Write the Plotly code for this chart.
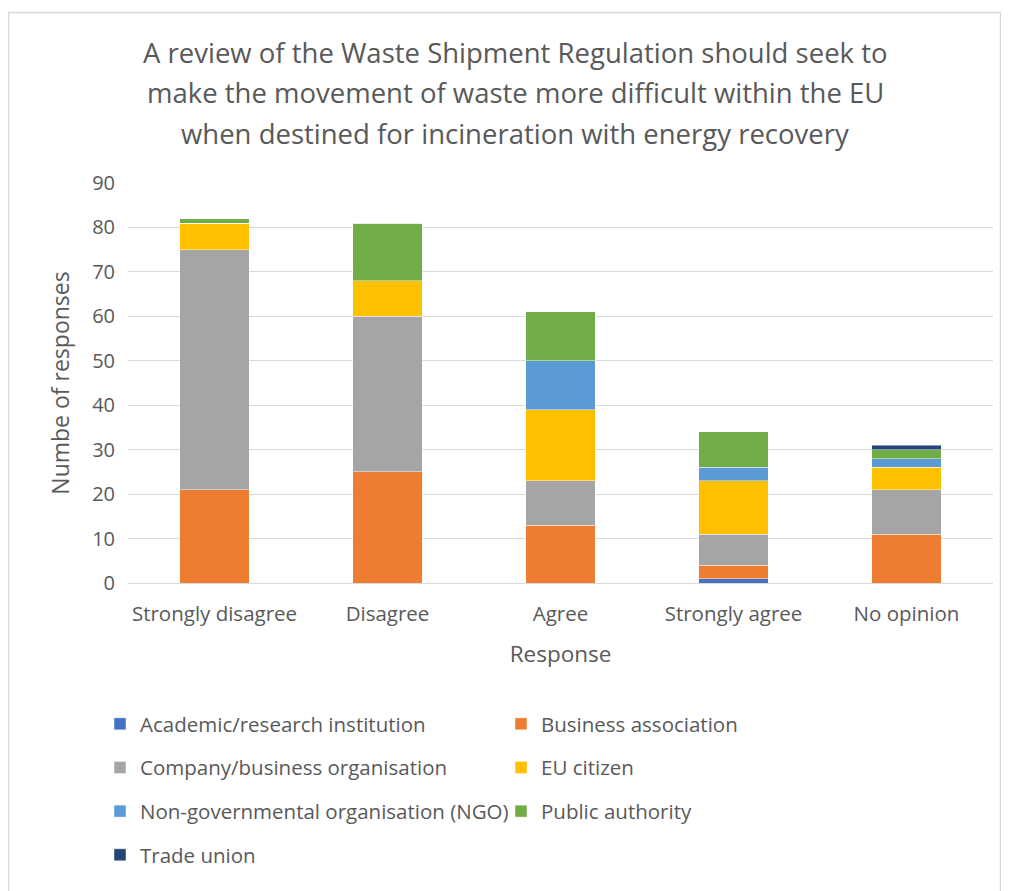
import plotly.graph_objects as go

responses = ['Strongly disagree', 'Disagree', 'Agree', 'Strongly agree', 'No opinion']

academic = [0, 0, 0, 1, 0]
business_association = [21, 25, 13, 3, 11]
company = [54, 35, 10, 7, 10]
eu_citizen = [6, 8, 16, 12, 5]
ngo = [0, 0, 11, 3, 2]
public_authority = [1, 13, 11, 8, 2]
trade_union = [0, 0, 0, 0, 1]

series = [
    ('Academic/research institution', academic, '#4472C4', 'legend'),
    ('Business association', business_association, '#ED7D31', 'legend2'),
    ('Company/business organisation', company, '#A5A5A5', 'legend'),
    ('EU citizen', eu_citizen, '#FFC000', 'legend2'),
    ('Non-governmental organisation (NGO)', ngo, '#5B9BD5', 'legend'),
    ('Public authority', public_authority, '#70AD47', 'legend2'),
    ('Trade union', trade_union, '#264478', 'legend'),
]

title_lines = [
    'A review of the Waste Shipment Regulation should seek to',
    'make the movement of waste more difficult within the EU',
    'when destined for incineration with energy recovery',
]

FONT = 'Open Sans'
GREY = '#595959'

# page body adds an 8px offset, so positions below are taken from the screen minus 8
OFF = 8
W, H = 1009, 891
L, R, T, B = 128 - OFF, W - (993 - OFF), 183 - OFF, H - (583 - OFF)
pw, ph = W - L - R, H - T - B


def px_x(x):
    return (x - OFF - L) / pw


def px_y(y):
    return (H - B - (y - OFF)) / ph


fig = go.Figure()
for name, vals, color, leg in series:
    fig.add_trace(go.Bar(
        x=responses,
        y=vals,
        name=name,
        legend=leg,
        legendgroup=name,
        marker=dict(color=color, line=dict(color='rgba(255,255,255,0.6)', width=0.75)),
    ))

annotations = []
for i, line in enumerate(title_lines):
    annotations.append(dict(
        text=line, x=px_x(515), y=px_y(52 + i * 41), xref='paper', yref='paper',
        showarrow=False, xanchor='center', yanchor='middle',
        font=dict(family=FONT, size=27.5, color=GREY),
    ))

legend_common = dict(
    orientation='v', yanchor='top', xanchor='left',
    font=dict(family=FONT, size=20.5, color=GREY),
    tracegroupgap=14, bgcolor='rgba(0,0,0,0)', itemclick=False,
)

fig.update_layout(
    width=W, height=H,
    margin=dict(l=L, r=R, t=T, b=B),
    paper_bgcolor='white', plot_bgcolor='white',
    barmode='stack', bargap=0.6,
    font=dict(family=FONT, color=GREY),
    annotations=annotations,
    legend=dict(x=px_x(100), y=px_y(704), **legend_common),
    legend2=dict(x=px_x(501), y=px_y(704), **legend_common),
    shapes=[dict(
        type='rect', xref='paper', yref='paper',
        x0=px_x(8.5), x1=px_x(1000.5), y0=px_y(905), y1=px_y(12.5),
        line=dict(color='#D9D9D9', width=1.5), fillcolor='rgba(0,0,0,0)', layer='below',
    )],
    xaxis=dict(
        title=dict(text='Response', font=dict(family=FONT, size=22.5, color=GREY), standoff=20),
        tickfont=dict(family=FONT, size=20.5, color=GREY),
        ticklabelstandoff=16,
        showgrid=False, showline=False, ticks='',
    ),
    yaxis=dict(
        title=dict(text='Numbe of responses', font=dict(family=FONT, size=23, color=GREY), standoff=16),
        tickfont=dict(family=FONT, size=20, color=GREY),
        ticklabelstandoff=12,
        range=[0, 90], dtick=10,
        showgrid=True, gridcolor='#D9D9D9', gridwidth=1,
        zeroline=True, zerolinecolor='#D9D9D9', zerolinewidth=1,
        ticks='', ticklen=0,
    ),
)

fig.write_html('out.html')
